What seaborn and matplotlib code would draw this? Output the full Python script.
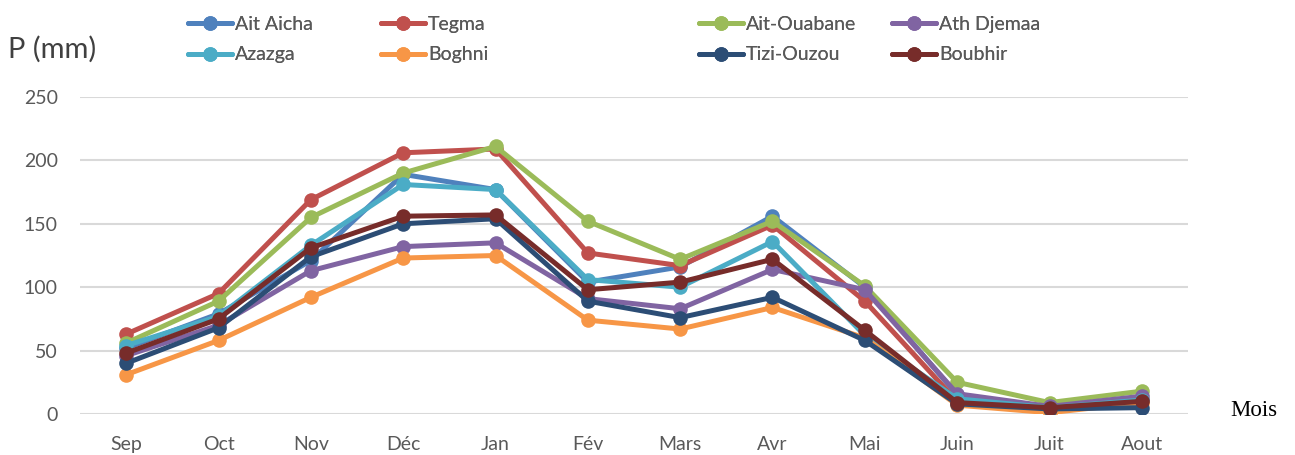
import matplotlib
matplotlib.use("Agg")
import matplotlib.pyplot as plt
import seaborn as sns
import pandas as pd

months = ['Sep', 'Oct', 'Nov', 'Déc', 'Jan', 'Fév', 'Mars', 'Avr', 'Mai', 'Juin', 'Juit', 'Aout']
stations = ['Ait Aicha', 'Tegma', 'Ait-Ouabane', 'Ath Djemaa', 'Azazga', 'Boghni', 'Tizi-Ouzou', 'Boubhir']

ait_aicha = [52, 79, 121, 189, 177, 104, 116, 156, 100, 15, 5, 11]
tegma = [63, 95, 169, 206, 209, 127, 117, 149, 89, 10, 5, 11]
ait_ouabane = [56, 89, 155, 190, 211, 152, 122, 152, 101, 25, 9, 18]
ath_djemaa = [46, 70, 113, 132, 135, 91, 83, 114, 98, 16, 6, 14]
azazga = [54, 77, 133, 181, 177, 106, 100, 136, 62, 12, 5, 11]
boghni = [31, 58, 92, 123, 125, 74, 67, 84, 60, 7, 1, 9]
tizi_ouzou = [40, 68, 124, 150, 154, 89, 76, 92, 58, 8, 4, 5]
boubhir = [48, 75, 131, 156, 157, 98, 104, 122, 66, 9, 5, 10]

yticks = [0, 50, 100, 150, 200, 250]

colors = ['#4F81BD', '#C0504D', '#9BBB59', '#8064A2', '#4BACC6', '#F79646', '#2C4D75', '#772C2A']

series = [ait_aicha, tegma, ait_ouabane, ath_djemaa, azazga, boghni, tizi_ouzou, boubhir]
rows = []
for name, vals in zip(stations, series):
    for m, v in zip(months, vals):
        rows.append({'Mois': m, 'P': v, 'Station': name})
df = pd.DataFrame(rows)

sns.set_style("white")
plt.rcParams['font.family'] = ['Lato', 'DejaVu Sans']

W, H = 1295, 455
fig = plt.figure(figsize=(W / 100, H / 100), dpi=100)
ax = fig.add_axes([80 / W, 1 - 414 / H, (1188 - 80) / W, (414 - 97) / H])

sns.lineplot(data=df, x='Mois', y='P', hue='Station', hue_order=stations,
             palette=colors, marker='o', markersize=10.5, markeredgewidth=0,
             linewidth=3.6, sort=False, ax=ax, legend=True)

ax.set_xlim(-0.5, len(months) - 0.5)
ax.set_ylim(0, 250)
ax.set_yticks(yticks)
ax.set_yticklabels([str(t) for t in yticks])
ax.grid(axis='y', color='#D9D9D9', linewidth=1.5)
ax.grid(axis='x', visible=False)
ax.set_axisbelow(True)
for s in ax.spines.values():
    s.set_visible(False)
ax.tick_params(axis='both', length=0, labelsize=14, colors='#595959')
ax.tick_params(axis='y', pad=16)
ax.tick_params(axis='x', pad=16)
ax.set_xlabel('')
ax.set_ylabel('')

handles, labels = ax.get_legend_handles_labels()
ax.get_legend().remove()
fs = 14
fs_px = fs * 100 / 72
col_x = [188, 381, 699, 892]
for c in range(4):
    idx = [c, c + 4]
    leg = fig.legend([handles[i] for i in idx], [labels[i] for i in idx],
                     ncol=1, loc='upper left', bbox_to_anchor=(col_x[c] / W, 1 - 16 / H),
                     frameon=False, fontsize=fs, labelcolor='#595959',
                     handlelength=44 / fs_px, handletextpad=3 / fs_px,
                     labelspacing=0.69, borderpad=0, borderaxespad=0)
    fig.add_artist(leg)

fig.text(8 / W, 1 - 49 / H, 'P (mm)', fontsize=21, color='#404040', va='center', ha='left')
fig.text(1230 / W, 1 - 410 / H, 'Mois', fontsize=16.5, color='black', va='center', ha='left',
         family='Liberation Serif')

fig.savefig('out.png', dpi=100)
